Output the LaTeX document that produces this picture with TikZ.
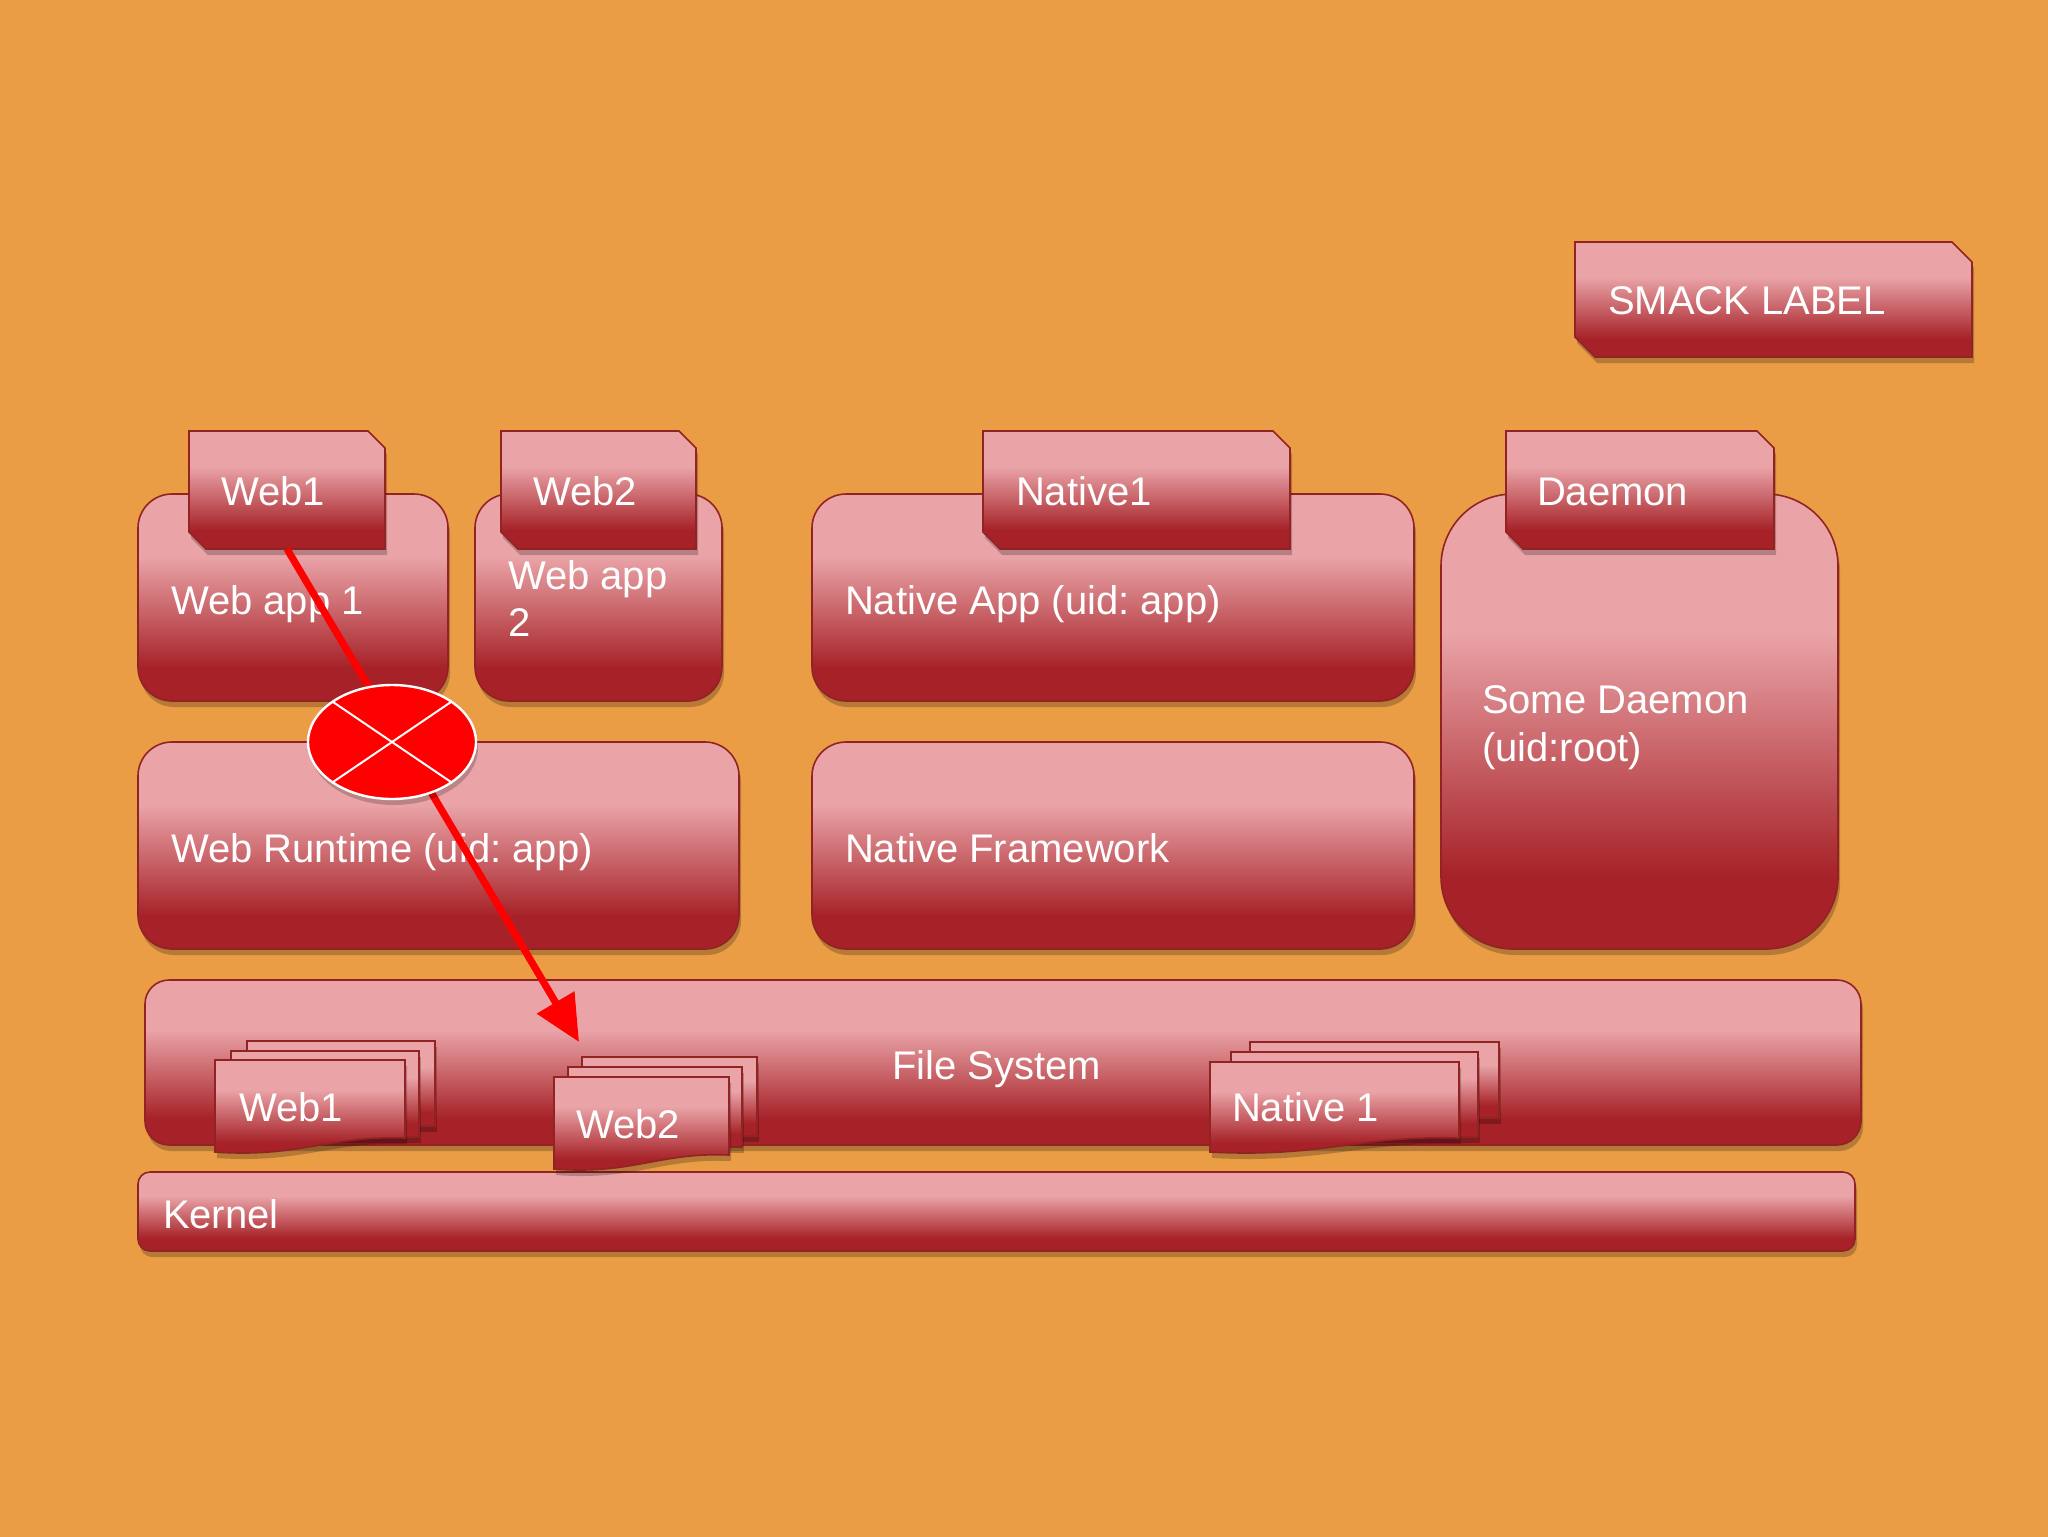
\documentclass[tikz,border=0pt]{standalone}
\usepackage{fontspec}
\setmainfont{Liberation Sans}
\usetikzlibrary{shapes.geometric,arrows.meta,shadows}
\frenchspacing
\definecolor{bg}{RGB}{235,157,70}
\definecolor{bxlt}{RGB}{234,164,168}
\definecolor{bxdk}{RGB}{166,34,40}
\definecolor{bxline}{RGB}{145,35,35}
\pgfdeclareverticalshading{boxshade}{100bp}{color(0bp)=(bxdk); color(33bp)=(bxdk); color(60bp)=(bxlt); color(100bp)=(bxlt)}
\tikzset{
  boxbase/.style={shading=boxshade, draw=bxline, line width=0.8pt,
    drop shadow={shadow xshift=1pt, shadow yshift=-3pt, opacity=0.22, fill=black}},
  box/.style={boxbase, rectangle, rounded corners=#1, inner sep=0pt, outer sep=0pt, anchor=north west},
  lbl/.style={text=white, anchor=base west, inner sep=0pt, outer sep=0pt, font=\fontsize{20}{24}\selectfont},
  arrowline/.style={draw=red, line width=3.6pt, -{Triangle[length=23pt,width=21pt]}},
  denymark/.style={ellipse, fill=red, draw=white, line width=1.2pt, minimum width=84pt, minimum height=57pt, inner sep=0pt, outer sep=0pt,
    drop shadow={shadow xshift=1pt, shadow yshift=-3pt, opacity=0.2, fill=black}},
  crossline/.style={draw=white, line width=1pt}
}
% tab: x1 y1 x2 y2 cut
\newcommand\mytab[5]{\path[boxbase] (#1,#2) -- ({#3-#5},#2) -- (#3,{#2+#5}) -- (#3,#4) -- ({#1+#5},#4) -- (#1,{#4-#5}) -- cycle;}
% back document: x1 y1 x2 y2
\newcommand\mydocback[4]{\path[boxbase] (#1,#2) rectangle (#3,#4);}
% front document: x1 y1 x2 yleft yright
\newcommand\mydocfront[5]{\path[boxbase] (#1,#2) -- (#3,#2) -- (#3,#5) .. controls ({#1+0.6*(#3-#1)},{#5-3}) and ({#1+0.45*(#3-#1)},{#4+6}) .. (#1,#4) -- cycle;}
\begin{document}
\begin{tikzpicture}[x=0.5pt,y=-0.5pt]
\useasboundingbox (0,0) rectangle (2048,1536);
\fill[bg] (-10,-10) rectangle (2058,1546);

% SMACK LABEL legend
\mytab{1575}{242}{1972}{357}{20}
\node[lbl] (smack) at (1608,314) {SMACK LABEL};

% boxes
\node[box=17pt, minimum width=155pt, minimum height=103.5pt] (webapp1) at (138,494) {};
\node[box=17pt, minimum width=123.5pt, minimum height=103.5pt] (webapp2) at (475,494) {};
\node[box=17pt, minimum width=301pt, minimum height=103.5pt] (nativeapp) at (812,494) {};
\node[box=36pt, minimum width=198.5pt, minimum height=227.5pt] (daemonbox) at (1441,494) {};
\node[box=17pt, minimum width=300.5pt, minimum height=103.5pt] (webruntime) at (138,742) {};
\node[box=17pt, minimum width=301pt, minimum height=103.5pt] (nativefw) at (812,742) {};
\node[box=12pt, minimum width=858pt, minimum height=82.5pt] (filesystem) at (145,980) {};
\node[box=6pt, minimum width=858.5pt, minimum height=39.5pt] (kernel) at (138,1172) {};

% tabs
\mytab{189}{431}{385}{549}{17}
\mytab{501}{431}{696}{549}{17}
\mytab{983}{431}{1290}{549}{17}
\mytab{1506}{431}{1774}{549}{17}

% documents in file system
\mydocback{247}{1041}{435}{1126}
\mydocback{231}{1051}{419}{1137}
\mydocfront{215}{1060}{405}{1152}{1138}
\mydocback{582}{1057}{757}{1136}
\mydocback{568}{1067}{742}{1147}
\mydocfront{554}{1077}{729}{1169}{1155}
\mydocback{1250}{1042}{1499}{1118}
\mydocback{1231}{1052}{1478}{1137}
\mydocfront{1210}{1062}{1459}{1152}{1138}

% labels
\node[lbl] (web1tab) at (221,505) {Web1};
\node[lbl] (web2tab) at (533,505) {Web2};
\node[lbl] (native1tab) at (1016,505) {Native1};
\node[lbl] (daemontab) at (1537,505) {Daemon};
\node[lbl] (webapp1txt) at (171,614) {Web app 1};
\node[lbl] (webapp2txt) at (508,589) {Web app};
\node[lbl] (webapp2txtb) at (508,636) {2};
\node[lbl] (nativeapptxt) at (845,614) {Native App (uid: app)};
\node[lbl] (daemontxt) at (1482,713) {Some Daemon};
\node[lbl] (daemontxtb) at (1482,761) {(uid:root)};
\node[lbl] (webruntimetxt) at (171,862) {Web Runtime (uid: app)};
\node[lbl] (nativefwtxt) at (845,862) {Native Framework};
\node[lbl] (fstxt) at (892,1079) {File System};
\node[lbl] (web1doc) at (239,1121) {Web1};
\node[lbl] (web2doc) at (576,1138) {Web2};
\node[lbl] (native1doc) at (1232,1121) {Native 1};
\node[lbl] (kerneltxt) at (163,1228) {Kernel};

% denied access arrow
\coordinate (web1tabbottom) at (287,549);
\coordinate (web2docstack) at (579,1042);
\draw[arrowline] (web1tabbottom) -- (web2docstack);
\node[denymark] (deny) at (392,742) {};
\draw[crossline] (deny.north west) -- (deny.south east);
\draw[crossline] (deny.north east) -- (deny.south west);
\end{tikzpicture}
\end{document}
